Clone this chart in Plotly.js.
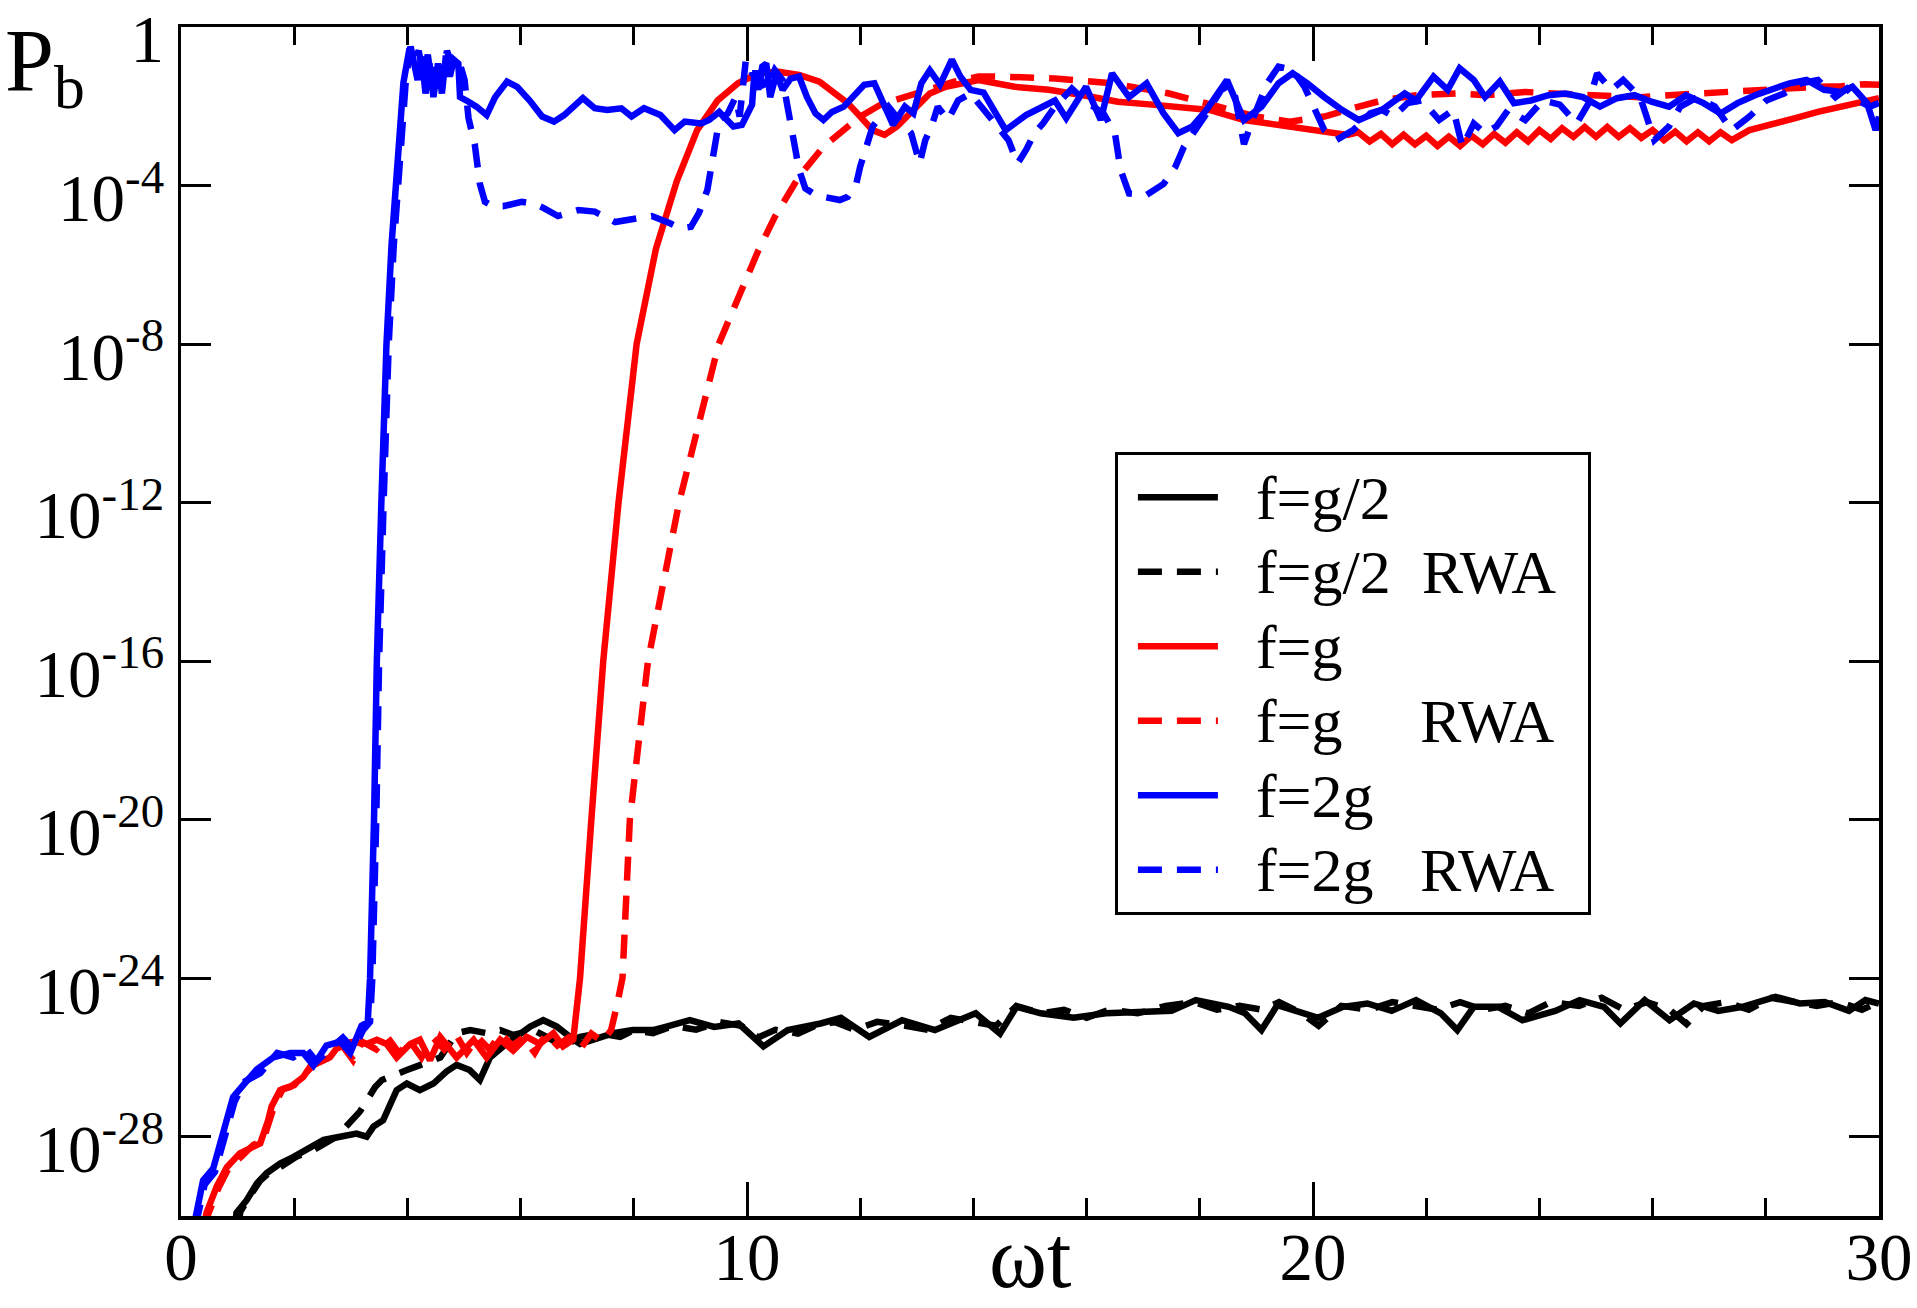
<!DOCTYPE html>
<html>
<head>
<meta charset="utf-8">
<script src="https://cdn.plot.ly/plotly-3.0.1.min.js"></script>
<style>
  html, body { margin: 0; padding: 0; background: #fff; }
  #chart { width: 1917px; height: 1308px; }
</style>
</head>
<body>
<div id="chart"></div>
<script>
// Values: time (omega t) and population P_b for each run

// f = g/2
const tHalf = [0.95,0.98,1.16,1.34,1.51,1.75,1.99,2.22,2.52,2.81,3.10,3.28,3.40,3.57,3.69,3.81,3.99,4.22,4.46,4.69,4.87,5.10,5.28,5.46,5.69,5.93,6.17,6.40,6.64,6.87,7.05,7.34,7.64,7.98,8.34,8.56,8.99,9.42,9.85,
  10.29,10.72,11.30,11.66,12.16,12.74,13.32,14.04,14.47,14.76,15.19,15.77,16.34,16.92,17.50,17.93,18.51,18.80,19.09,19.37,
  20.09,20.53,20.96,21.39,21.82,22.26,22.55,22.84,23.27,23.70,24.28,24.71,25.14,25.43,25.86,26.30,26.73,27.16,27.59,28.17,28.60,29.04,29.47,29.76,30.0];
const pHalf = [5e-31,1.2e-30,2.5e-30,6.6e-30,1.2e-29,2.1e-29,3.1e-29,4.6e-29,8.3e-29,1e-28,1.2e-28,1e-28,1.8e-28,2.6e-28,6.9e-28,1.5e-27,2.2e-27,1.5e-27,2.2e-27,4.4e-27,6.5e-27,4.8e-27,2.7e-27,1e-26,1.9e-26,3.3e-26,6e-26,8.7e-26,6e-26,3.3e-26,2.2e-26,3e-26,4.1e-26,4.9e-26,4.9e-26,5.9e-26,8.7e-26,5.9e-26,7.2e-26,
  1.9e-26,4.9e-26,7.2e-26,1e-25,3.3e-26,8.7e-26,4.9e-26,1.3e-25,4e-26,1.9e-25,1.3e-25,1e-25,1.3e-25,1.4e-25,1.5e-25,2.8e-25,1.9e-25,1.3e-25,4.9e-26,2.1e-25,
  1e-25,1.9e-25,2.3e-25,1.5e-25,2.8e-25,1.3e-25,4.9e-26,1.9e-25,1.9e-25,8.7e-26,1.5e-25,2.8e-25,1.9e-25,7.2e-26,2.8e-25,8.7e-26,2.3e-25,1.5e-25,1.9e-25,3.4e-25,2.3e-25,2.5e-25,1.5e-25,2.8e-25,2.3e-25];

// f = g/2, RWA
const tHalfRwa = [1.00,1.05,1.22,1.40,1.58,1.75,2.05,2.34,2.75,3.01,3.16,3.43,3.55,3.99,4.40,4.58,4.87,5.11,5.40,5.64,5.87,6.23,6.46,6.76,7.05,7.40,7.76,8.00,8.34,8.70,9.10,9.50,9.90,
  10.20,10.50,10.90,11.20,11.55,11.90,12.30,12.80,13.20,13.60,14.00,14.40,14.76,15.20,15.60,16.00,16.40,16.90,17.40,17.90,18.30,18.70,19.10,19.40,19.80,
  20.10,20.50,21.00,21.40,21.80,22.20,22.60,23.00,23.40,23.80,24.20,24.70,25.10,25.50,25.90,26.30,26.60,26.90,27.30,27.70,28.10,28.50,28.90,29.30,29.70,30.0];
const pHalfRwa = [5e-31,1.3e-30,3.2e-30,7.9e-30,1.3e-29,1.7e-29,3.2e-29,4.6e-29,1e-28,2.6e-28,4.3e-28,1.8e-27,2.7e-27,4.8e-27,8.5e-27,1e-26,4.1e-26,4.9e-26,4.1e-26,4.9e-26,3.7e-26,4.9e-26,3.3e-26,1.9e-26,3.3e-26,4.1e-26,3.3e-26,4.9e-26,4.1e-26,6.3e-26,5e-26,7.9e-26,6.3e-26,
  3.2e-26,5e-26,4e-26,6.3e-26,7.9e-26,5e-26,7.9e-26,6.3e-26,5e-26,1e-25,7.9e-26,6.3e-26,2e-25,1.3e-25,1.6e-25,1e-25,1.6e-25,1.3e-25,2e-25,2.5e-25,1.6e-25,2e-25,1.6e-25,2.5e-25,1.3e-25,
  6.3e-26,2e-25,1.6e-25,2.5e-25,2e-25,1.6e-25,2.5e-25,1.6e-25,2e-25,1.3e-25,2.5e-25,2e-25,3.2e-25,1.6e-25,2.5e-25,1.6e-25,7e-26,2e-25,2.5e-25,1.6e-25,3.2e-25,2.5e-25,2e-25,2.5e-25,1.6e-25,2.5e-25];

// f = g
const tOne = [0.40,0.45,0.63,0.81,1.04,1.25,1.40,1.54,1.60,1.75,1.93,2.16,2.28,2.63,2.81,3.05,3.28,3.46,3.63,3.81,4.05,4.22,4.40,4.58,4.87,5.17,5.40,5.64,5.87,6.11,6.34,6.58,6.75,6.93,6.99,
  7.05,7.25,7.46,7.73,8.05,8.39,8.76,9.12,9.48,9.84,10.2,10.56,10.92,11.28,11.57,11.78,12.0,12.22,12.43,12.65,12.94,13.23,13.51,13.80,14.09,
  14.73,15.33,15.94,16.55,17.16,17.77,18.17,18.78,19.39,20.00,20.61,
  20.8,21.0,21.2,21.4,21.6,21.8,22.0,22.2,22.4,22.6,22.8,23.0,23.2,23.4,23.6,23.8,24.0,24.2,24.4,24.6,24.8,25.0,25.2,25.4,25.6,25.8,26.0,26.2,26.4,26.6,26.8,27.0,27.2,27.4,
  27.71,28.11,28.52,28.92,29.33,29.74,30.0];
const pOne = [5e-31,1.2e-30,5.5e-30,1.7e-29,3.8e-29,5.6e-29,6.8e-29,2.6e-28,5.8e-28,1.5e-27,1.8e-27,3.2e-27,5.8e-27,1e-26,2.2e-26,2.5e-26,2.2e-26,2.8e-26,2.2e-26,1e-26,2.2e-26,2.8e-26,8.5e-27,3.3e-26,1e-26,2.8e-26,1e-26,2.8e-26,1.5e-26,3.3e-26,2.2e-26,4.1e-26,1.9e-26,2.8e-26,1.3e-25,
  1e-24,1e-20,1e-16,1e-12,1e-8,2.5e-6,1.3e-4,2.5e-3,1.4e-2,3.8e-2,6.8e-2,7.4e-2,6.2e-2,4.2e-2,2.1e-2,1.2e-2,5.5e-3,2.5e-3,1.9e-3,3.1e-3,8.1e-3,2.1e-2,3.1e-2,3.8e-2,4.6e-2,
  3.1e-2,2.6e-2,1.9e-2,1.3e-2,1.1e-2,8.9e-3,8.1e-3,4.5e-3,3.4e-3,2.5e-3,1.9e-3,
  2.2e-3,1.3e-3,2e-3,1.1e-3,1.9e-3,1.1e-3,1.8e-3,1e-3,1.7e-3,1e-3,1.8e-3,1.1e-3,2e-3,1.2e-3,2.2e-3,1.3e-3,2.5e-3,1.5e-3,2.8e-3,1.7e-3,3e-3,1.7e-3,3e-3,1.7e-3,2.8e-3,1.6e-3,2.5e-3,1.4e-3,2.3e-3,1.3e-3,2.2e-3,1.3e-3,2.2e-3,1.4e-3,
  2.5e-3,3.4e-3,5e-3,7.2e-3,9.8e-3,1.3e-2,1.6e-2];

// f = g, RWA
const tOneRwa = [0.42,0.48,0.66,0.84,1.07,1.28,1.45,1.57,1.65,1.80,2.00,2.20,2.40,2.65,2.85,3.04,3.20,3.45,3.65,3.85,4.05,4.25,4.45,4.65,4.85,5.05,5.25,5.45,5.65,5.85,6.05,6.25,6.45,6.65,6.85,7.05,7.25,7.45,7.60,7.70,
  7.80,7.93,8.25,8.80,9.50,10.2,10.49,10.92,11.35,11.64,12.0,12.36,12.79,13.23,13.66,14.09,
  14.52,15.44,16.45,17.46,17.77,18.38,18.99,19.59,20.20,20.81,21.22,21.82,22.53,23.04,23.75,24.26,24.87,25.27,25.78,26.29,26.79,27.30,27.71,28.32,28.92,29.33,29.74,30.0];
const pOneRwa = [5e-31,1.1e-30,5e-30,1.6e-29,3.2e-29,6.3e-29,7.9e-29,3.2e-28,6.3e-28,1.6e-27,2e-27,4e-27,7.9e-27,1.3e-26,2e-26,8.5e-27,2.5e-26,1.6e-26,3.2e-26,1.3e-26,2.5e-26,1e-26,3.2e-26,1.6e-26,4e-26,1.3e-26,3.2e-26,1.6e-26,4e-26,2e-26,3.2e-26,1.3e-26,4e-26,2e-26,3.2e-26,1.6e-26,4e-26,2.5e-26,5e-26,2e-25,
  1e-24,1e-20,1e-16,1e-12,1e-8,2.3e-6,1.6e-5,1.7e-4,9.5e-4,2.1e-3,5.5e-3,1.1e-2,1.7e-2,2.8e-2,4.2e-2,5.6e-2,
  5.6e-2,5e-2,3.8e-2,2.1e-2,1.6e-2,8.9e-3,5.5e-3,4.1e-3,5.5e-3,9.8e-3,1.4e-2,1.9e-2,2.1e-2,1.9e-2,2.3e-2,2.1e-2,1.9e-2,1.7e-2,1.7e-2,1.9e-2,2.1e-2,2.2e-2,2.6e-2,2.8e-2,3.1e-2,3.2e-2,3.6e-2,3.5e-2];

// f = 2g
const tTwo = [0.22,0.39,0.57,0.75,0.92,1.10,1.34,1.63,1.93,2.16,2.34,2.57,2.81,2.99,3.19,3.30,3.34,3.41,3.46,3.54,3.63,3.72,3.80,3.87,3.93,4.03,
  4.07,4.18,4.25,4.32,4.39,4.46,4.54,4.61,4.68,4.75,4.82,4.90,4.93,5.08,5.22,5.40,5.55,5.76,5.94,6.16,6.38,6.59,6.77,7.10,7.31,7.53,7.78,7.96,8.18,8.47,8.72,8.90,9.19,9.33,9.51,9.76,9.91,
  10.09,10.13,10.20,10.27,10.34,10.41,10.52,10.63,10.77,10.92,11.06,11.21,11.35,11.50,11.71,11.93,12.07,12.25,12.36,12.58,12.79,12.94,13.08,13.23,13.41,13.62,13.77,13.95,14.18,
  14.57,14.93,15.44,15.64,15.99,16.25,16.45,16.75,17.06,17.36,17.62,17.87,18.12,18.48,18.78,19.09,19.39,19.64,19.90,20.20,20.51,20.81,21.22,21.62,21.82,22.13,22.38,22.59,22.84,23.04,23.30,23.55,23.85,24.16,24.46,24.77,25.07,25.37,25.68,25.98,26.29,26.59,26.90,27.20,27.50,27.81,28.11,28.42,28.72,29.03,29.33,29.53,29.79,29.94,30.0];
const pTwo = [5e-31,7.9e-30,1.6e-29,1.6e-28,1e-27,2e-27,5e-27,1e-26,1.3e-26,1.3e-26,6.3e-27,2e-26,2.5e-26,1.3e-26,6.3e-26,7.9e-26,1e-24,1e-20,1e-16,1e-12,1e-8,3.2e-6,1e-4,3.2e-3,4e-2,2.5e-1,
  2.6e-1,4.6e-2,1.8e-1,2.1e-2,1.2e-1,1.7e-2,1.2e-1,2.1e-2,1.9e-1,5.6e-2,1.5e-1,1.2e-1,1.7e-2,1.3e-2,9.8e-3,6e-3,1.7e-2,4.2e-2,3.1e-2,1.4e-2,5.5e-3,4.1e-3,6e-3,1.6e-2,8.9e-3,8.1e-3,8.9e-3,5.5e-3,8.9e-3,6e-3,2.5e-3,4.1e-3,3.7e-3,4.5e-3,7.2e-3,3.1e-3,3.4e-3,
  1.1e-2,6.8e-2,2.6e-2,1e-1,1.2e-1,1.7e-2,6.8e-2,2.6e-2,5e-2,5.6e-2,1.7e-2,6.6e-3,4.5e-3,7.2e-3,9.8e-3,2.1e-2,3.5e-2,3.8e-2,1.7e-2,3.4e-3,9.8e-3,6.6e-3,3.8e-2,8.1e-2,3.5e-2,1.5e-1,5.6e-2,2.6e-2,2.2e-2,
  2.5e-3,6e-3,1.4e-2,5e-3,3.1e-2,4.5e-3,6.8e-2,1.7e-2,3.8e-2,6.6e-3,2.1e-3,3.1e-3,8.1e-3,4.6e-2,4.5e-3,9.8e-3,3.8e-2,6.8e-2,3.8e-2,1.7e-2,8.1e-3,4.5e-3,8.1e-3,2.1e-2,1.4e-2,5.6e-2,2.6e-2,9.1e-2,4.6e-2,1.7e-2,4.2e-2,1.2e-2,1.4e-2,1.9e-2,2.1e-2,1.7e-2,9.8e-3,1.6e-2,1.9e-2,1.3e-2,9.8e-3,1.9e-2,1.2e-2,6.6e-3,1.2e-2,1.9e-2,2.8e-2,3.8e-2,4.6e-2,2.6e-2,2.3e-2,3.1e-2,1.2e-2,2.5e-3,5.5e-3];

// f = 2g, RWA
const tTwoRwa = [0.25,0.42,0.60,0.78,0.95,1.13,1.40,1.70,1.98,2.22,2.40,2.62,2.86,3.05,3.22,3.34,3.38,3.45,3.50,3.58,3.67,3.76,3.84,3.91,3.97,4.05,
  4.12,4.20,4.28,4.36,4.44,4.52,4.60,4.70,4.80,4.90,5.01,5.08,5.19,5.28,5.37,5.51,5.69,6.02,6.23,6.41,6.66,7.02,7.31,7.67,7.96,8.32,8.65,8.83,9.01,9.15,9.30,9.37,9.44,9.51,9.66,9.80,9.87,9.98,
  10.09,10.20,10.34,10.49,10.63,10.77,10.85,10.92,11.03,11.17,11.35,11.64,11.78,11.93,12.00,12.11,12.22,12.36,12.50,12.69,12.90,13.05,13.15,13.26,13.37,13.55,13.73,13.95,14.13,14.35,
  14.62,14.78,14.93,15.08,15.23,15.44,15.74,15.99,16.30,16.50,16.60,16.75,17.06,17.36,17.57,17.72,17.97,18.12,18.38,18.58,18.78,18.93,19.19,19.39,19.64,19.85,20.20,20.41,20.71,21.01,21.22,21.42,21.67,21.93,22.23,22.48,22.64,22.84,23.04,23.24,23.45,23.75,24.06,24.36,24.66,24.87,25.02,25.27,25.48,25.78,26.03,26.29,26.49,26.79,27.10,27.40,27.71,28.01,28.32,28.62,28.92,29.23,29.43,29.63,29.84,30.0];
const pTwoRwa = [5e-31,6.3e-30,1.3e-29,1.3e-28,7.9e-28,2.5e-27,4e-27,1.3e-26,1e-26,1.6e-26,7.9e-27,1.6e-26,3.2e-26,1.6e-26,5e-26,7.9e-26,1e-24,1e-20,1e-16,1e-12,1e-8,3.2e-6,1e-4,3.2e-3,4e-2,3.2e-1,
  1.5e-1,2.5e-1,6.3e-2,2e-1,3.2e-2,1.6e-1,5e-2,2.5e-1,1e-1,1.6e-1,4.6e-2,5e-3,1.1e-3,1.1e-4,3.9e-5,3e-5,3e-5,3.9e-5,3.5e-5,2.7e-5,1.7e-5,2.4e-5,2.2e-5,1.2e-5,1.4e-5,1.7e-5,1.1e-5,8.3e-6,9.1e-6,2e-5,7.8e-5,3.6e-4,1.4e-3,4.5e-3,6.6e-3,1.7e-2,5.5e-3,1.5e-1,
  6.8e-2,6.8e-2,2.6e-2,8.3e-2,4.6e-2,3.1e-3,9.5e-4,2.5e-4,8.5e-5,6.3e-5,5.2e-5,4.3e-5,5.2e-5,1.1e-4,3e-4,1.1e-3,3.1e-3,5.5e-3,9.8e-3,4.5e-3,2.1e-3,3.6e-4,1.4e-3,3.1e-3,9.8e-3,4.5e-3,1.4e-2,2.1e-2,9.8e-3,4e-3,
  1.4e-3,3.6e-4,7.9e-4,2.1e-3,3.7e-3,9.8e-3,2.8e-2,1.3e-2,6.6e-3,2.1e-3,2.5e-4,6.3e-5,5.8e-5,1.1e-4,3e-4,9.5e-4,3.1e-3,6.6e-3,2.6e-2,3.8e-2,1.1e-3,4.5e-3,3.8e-2,1e-1,8.3e-2,3.1e-2,2.5e-3,1.4e-3,2.5e-3,6.6e-3,8.1e-3,5.5e-3,1.2e-2,1.4e-2,4.5e-3,8.1e-3,9.5e-4,3.7e-3,2.1e-3,3.1e-3,8.1e-3,4.5e-3,1.4e-2,1.1e-2,3.7e-3,1.2e-2,6.8e-2,2.6e-2,4.6e-2,1.7e-2,1.4e-3,3.1e-3,9.8e-3,1.7e-2,9.8e-3,2.5e-3,5.5e-3,1.4e-2,2.1e-2,3.8e-2,4.6e-2,1.7e-2,2.8e-2,1.4e-2,9.8e-3,1.2e-2];

// legend labels; non-breaking spaces line up the RWA column
const NB = '\u00a0';
const seriesLabels = ['f=g/2', 'f=g/2' + NB.repeat(2) + 'RWA' + NB,
                      'f=g', 'f=g' + NB.repeat(5) + 'RWA' + NB,
                      'f=2g', 'f=2g' + NB.repeat(3) + 'RWA' + NB];

// y axis ticks every 4 decades
const yTickVals = [1e-28, 1e-24, 1e-20, 1e-16, 1e-12, 1e-8, 1e-4, 1];
const yTickText = ['10<sup>-28</sup>', '10<sup>-24</sup>', '10<sup>-20</sup>', '10<sup>-16</sup>',
                   '10<sup>-12</sup>', '10<sup>-8</sup>', '10<sup>-4</sup>', '1'];

const DASH = '24px,15px';
const LW = 6.5;

// legend rows are spaced by the legend font size, the glyphs are drawn larger
function legendName(label) {
    return '<span style="font-size:44px">' + NB.repeat(3) + '</span>' +
           '<span style="font-size:62px">' + label + '</span>' +
           '<span style="font-size:44px">' + NB + '</span>';
}

function curve(x, y, label, color, dashed) {
    return {
        x: x,
        y: y,
        name: legendName(label),
        type: 'scatter',
        mode: 'lines',
        line: { color: color, width: LW, dash: dashed ? DASH : 'solid' },
        hoverinfo: 'skip'
    };
}

const traces = [
    curve(tHalf, pHalf, seriesLabels[0], '#000000', false),
    curve(tHalfRwa, pHalfRwa, seriesLabels[1], '#000000', true),
    curve(tOne, pOne, seriesLabels[2], '#ff0000', false),
    curve(tOneRwa, pOneRwa, seriesLabels[3], '#ff0000', true),
    curve(tTwo, pTwo, seriesLabels[4], '#0000ff', false),
    curve(tTwoRwa, pTwoRwa, seriesLabels[5], '#0000ff', true)
];

const serif = 'Liberation Serif, Times New Roman, serif';

const layout = {
    width: 1917,
    height: 1308,
    margin: { l: 181, r: 38, t: 27, b: 92 },
    paper_bgcolor: 'white',
    plot_bgcolor: 'white',
    font: { family: serif, color: 'black', size: 66 },
    showlegend: true,
    legend: {
        x: 0.55,
        y: 0.6426,
        xanchor: 'left',
        yanchor: 'top',
        bgcolor: 'white',
        bordercolor: 'black',
        borderwidth: 3,
        itemwidth: 80,
        indentation: 15,
        tracegroupgap: 0,
        font: { family: serif, size: 55, color: 'black' }
    },
    xaxis: {
        range: [0, 30],
        tick0: 0,
        dtick: 10,
        ticks: 'inside',
        ticklen: 34,
        tickwidth: 3,
        tickcolor: 'black',
        showline: true,
        linewidth: 3.5,
        linecolor: 'black',
        mirror: 'ticks',
        showgrid: false,
        zeroline: false,
        ticklabelstandoff: -20,
        tickfont: { family: serif, size: 67 },
        minor: { dtick: 2, ticks: 'inside', ticklen: 18, tickwidth: 3, tickcolor: 'black', showgrid: false }
    },
    yaxis: {
        type: 'log',
        range: [-30, 0],
        tickvals: yTickVals,
        ticktext: yTickText,
        ticks: 'inside',
        ticklen: 30,
        tickwidth: 3,
        tickcolor: 'black',
        showline: true,
        linewidth: 3.5,
        linecolor: 'black',
        mirror: 'ticks',
        showgrid: false,
        zeroline: false,
        ticklabelshift: 12,
        tickfont: { family: serif, size: 67 }
    },
    annotations: [
        {
            // axis labels placed where the original figure has them
            text: '\u03c9t',
            xref: 'paper', yref: 'paper',
            x: 0.5, y: -0.0774,
            xanchor: 'center', yanchor: 'bottom',
            showarrow: false,
            font: { family: serif, size: 88, color: 'black' }
        },
        {
            text: 'P<sub>b</sub>',
            xref: 'paper', yref: 'paper',
            x: -0.105, y: 1.014,
            xanchor: 'left', yanchor: 'top',
            showarrow: false,
            font: { family: serif, size: 88, color: 'black' }
        }
    ]
};

Plotly.newPlot('chart', traces, layout, { displayModeBar: false, staticPlot: true });
</script>
</body>
</html>
